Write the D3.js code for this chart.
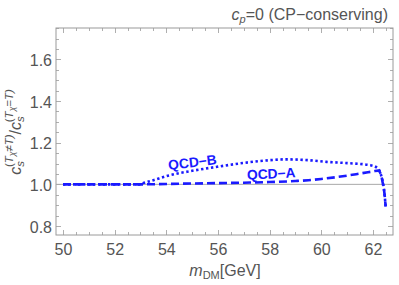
<!DOCTYPE html>
<html>
<head>
<meta charset="utf-8">
<script src="https://cdn.jsdelivr.net/npm/d3@7"></script>
<style>
  body { margin: 0; background: #fff; }
  svg { display: block; font-family: "Liberation Sans", Arial, sans-serif; }
</style>
</head>
<body>
<div id="vis"></div>
<script>
// chart values
var massA = [50, 51, 52, 53, 54, 55, 56, 57, 58, 59, 59.5, 60, 61, 61.5, 62, 62.2, 62.3, 62.38, 62.45, 62.49];
var ratioA = [1, 1, 1, 1, 1.002, 1.004, 1.006, 1.008, 1.011, 1.016, 1.02, 1.026, 1.042, 1.052, 1.062, 1.066, 1.05, 1.005, 0.95, 0.893];

var massB = [50, 51, 52, 53, 53.1, 53.5, 54.1, 55, 56, 57, 57.8, 58.65, 59.5, 60.2, 61, 61.9, 62.2, 62.3, 62.39, 62.45, 62.49];
var ratioB = [1, 1, 1, 1, 1.005, 1.02, 1.043, 1.065, 1.085, 1.103, 1.114, 1.12, 1.116, 1.108, 1.102, 1.092, 1.076, 1.05, 1.005, 0.95, 0.893];

var xMajor = [50, 52, 54, 56, 58, 60, 62];
var yMajor = [0.8, 1.0, 1.2, 1.4, 1.6];

var width = 399;
var height = 285;
var frame = { left: 56, right: 393, top: 28, bottom: 235 };

var svg = d3.select('#vis').append('svg')
  .attr('width', width)
  .attr('height', height);

// scales: x(50)=63.3, x(62)=373.3 ; y(1.6)=59.3, y(0.8)=226
var x = d3.scaleLinear().domain([49.729, 62.775]).range([frame.left, frame.right]);
var y = d3.scaleLinear().domain([0.7568, 1.7508]).range([frame.bottom, frame.top]);

var tickGray = '#9a9a9a';
var labelGray = '#555';
var blue = '#1a1aff';

// frame
svg.append('rect')
  .attr('x', frame.left).attr('y', frame.top)
  .attr('width', frame.right - frame.left)
  .attr('height', frame.bottom - frame.top)
  .attr('fill', 'none')
  .attr('stroke', tickGray)
  .attr('stroke-width', 1);

// minor ticks (every 0.5 / 0.05) and major ticks, on all four sides, pointing inward
var xMinor = d3.range(50, 62.75, 0.5);
var yMinor = d3.range(0.8, 1.751, 0.05);

var ticks = svg.append('g').attr('stroke', tickGray).attr('stroke-width', 0.8);
xMinor.forEach(function (v) {
  var isMajor = xMajor.some(function (m) { return Math.abs(m - v) < 1e-6; });
  var len = isMajor ? 5 : 3;
  var px = Math.round(x(v)) + 0.5;
  ticks.append('line').attr('x1', px).attr('x2', px).attr('y1', frame.bottom).attr('y2', frame.bottom - len);
  ticks.append('line').attr('x1', px).attr('x2', px).attr('y1', frame.top).attr('y2', frame.top + len);
});
yMinor.forEach(function (v) {
  var isMajor = yMajor.some(function (m) { return Math.abs(m - v) < 1e-6; });
  var len = isMajor ? 5 : 3;
  var py = Math.round(y(v)) + 0.5;
  ticks.append('line').attr('x1', frame.left).attr('x2', frame.left + len).attr('y1', py).attr('y2', py);
  ticks.append('line').attr('x1', frame.right).attr('x2', frame.right - len).attr('y1', py).attr('y2', py);
});

// tick labels
svg.append('g').selectAll('text').data(xMajor).enter().append('text')
  .attr('x', function (d) { return x(d) + 0.5; })
  .attr('y', 255)
  .attr('text-anchor', 'middle')
  .attr('font-size', 16)
  .attr('fill', labelGray)
  .text(function (d) { return d; });

svg.append('g').selectAll('text').data(yMajor).enter().append('text')
  .attr('x', 52)
  .attr('y', function (d) { return y(d) + 6.5; })
  .attr('text-anchor', 'end')
  .attr('font-size', 16)
  .attr('fill', labelGray)
  .text(function (d) { return d.toFixed(1); });

// reference line at 1
svg.append('line')
  .attr('x1', frame.left).attr('x2', frame.right)
  .attr('y1', y(1)).attr('y2', y(1))
  .attr('stroke', '#a8a8a8')
  .attr('stroke-width', 1);

// curves
var line = d3.line()
  .x(function (d) { return x(d[0]); })
  .y(function (d) { return y(d[1]); })
  .curve(d3.curveMonotoneX);

var seriesA = d3.zip(massA, ratioA);
var seriesB = d3.zip(massB, ratioB);

svg.append('path')
  .datum(seriesB)
  .attr('d', line)
  .attr('fill', 'none')
  .attr('stroke', blue)
  .attr('stroke-width', 2.6)
  .attr('stroke-dasharray', '2.4,2.6');

svg.append('path')
  .datum(seriesA)
  .attr('d', line)
  .attr('fill', 'none')
  .attr('stroke', blue)
  .attr('stroke-width', 2.6)
  .attr('stroke-dasharray', '8,4');

// curve labels
svg.append('text')
  .attr('transform', 'translate(193,167) rotate(-7)')
  .attr('text-anchor', 'middle')
  .attr('font-size', 13.8)
  .attr('font-weight', 'bold')
  .attr('fill', blue)
  .text('QCD\u2212B');

svg.append('text')
  .attr('transform', 'translate(271.5,178.5) rotate(-3)')
  .attr('text-anchor', 'middle')
  .attr('font-size', 13.8)
  .attr('font-weight', 'bold')
  .attr('fill', blue)
  .text('QCD\u2212A');

// title
var title = svg.append('text')
  .attr('x', 388)
  .attr('y', 20)
  .attr('text-anchor', 'end')
  .attr('font-size', 16)
  .attr('fill', labelGray);
title.append('tspan').attr('font-style', 'italic').text('c');
title.append('tspan').attr('font-size', 11).attr('font-style', 'italic').attr('dy', 3).text('p');
title.append('tspan').attr('dy', -3).text('=0 (CP\u2212conserving)');

// x axis label
var xl = svg.append('text')
  .attr('x', 225)
  .attr('y', 276)
  .attr('text-anchor', 'middle')
  .attr('font-size', 16)
  .attr('fill', labelGray);
xl.append('tspan').attr('font-style', 'italic').text('m');
xl.append('tspan').attr('font-size', 11).attr('dy', 3).text('DM');
xl.append('tspan').attr('dy', -3).text('[GeV]');

// y axis label, pieces with absolute vertical offsets
var yl = svg.append('text')
  .attr('transform', 'translate(21,132) rotate(-90)')
  .attr('text-anchor', 'middle')
  .attr('font-size', 16)
  .attr('fill', labelGray);
var cur = 0;
function piece(txt, opts) {
  var t = yl.append('tspan').text(txt);
  var off = opts.off || 0;
  t.attr('dy', off - cur);
  cur = off;
  if (opts.size) t.attr('font-size', opts.size);
  if (opts.italic) t.attr('font-style', 'italic');
  if (opts.dx) t.attr('dx', opts.dx);
}
function ratioPart(eqSign) {
  piece('c', { italic: true, size: 16 });
  piece('s', { italic: true, size: 11.5, off: 3 });
  piece('(', { size: 11.5, off: -8.5, dx: -6 });
  piece('T', { italic: true, size: 11.5, off: -8.5 });
  piece('\u03c7', { italic: true, size: 8.5, off: -6 });
  piece(eqSign + 'T)', { italic: true, size: 11.5, off: -8.5 });
}
ratioPart('\u2260');
piece('/', { size: 16, off: 0 });
ratioPart('=');
</script>
</body>
</html>
